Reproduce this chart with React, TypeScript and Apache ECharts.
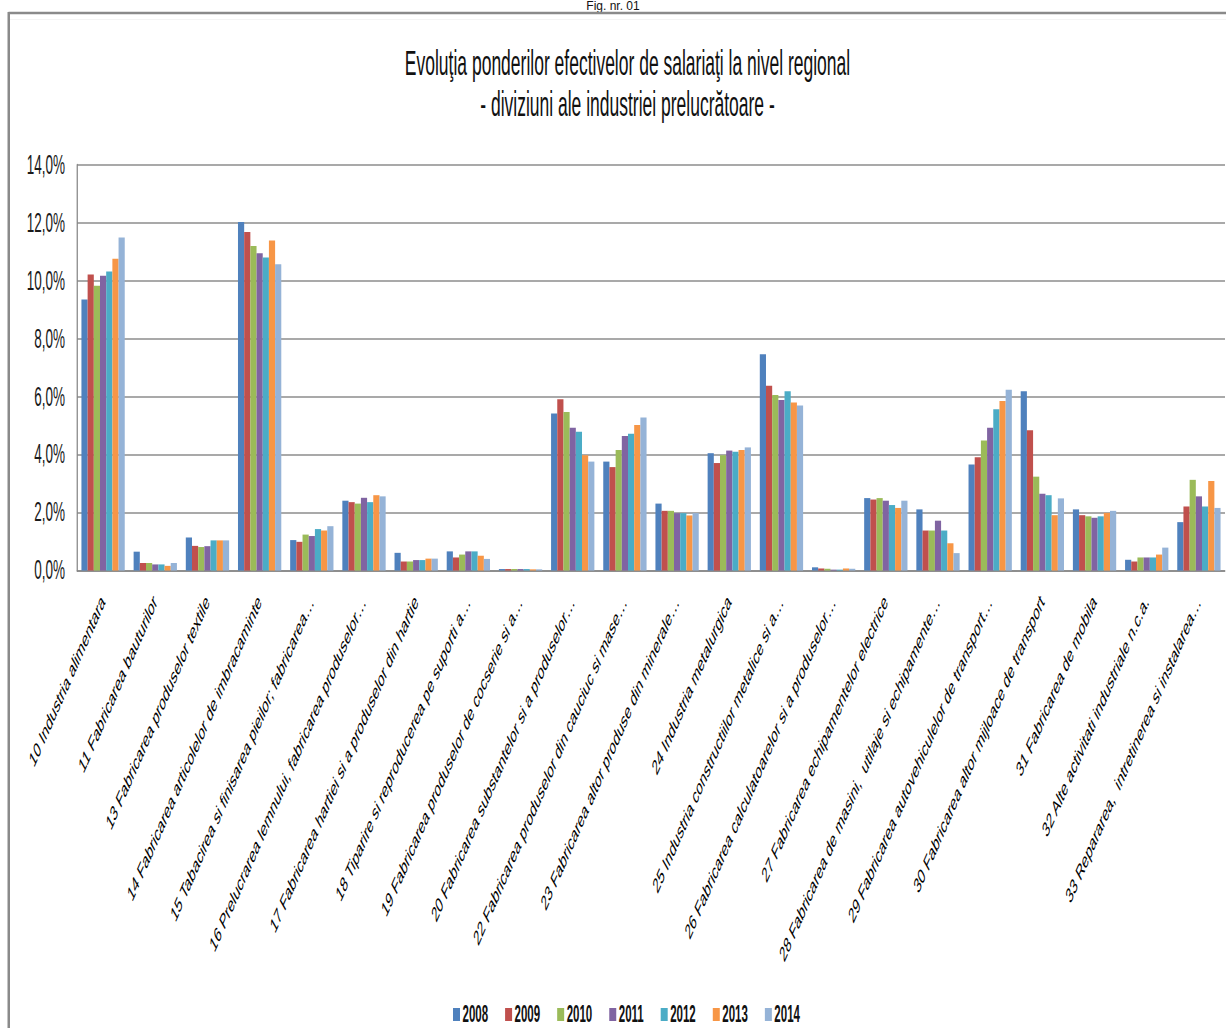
import React, { useEffect, useRef } from "react";
import * as echarts from "echarts";

// ---- data ----
const categories: string[] = [
  "10 Industria alimentara",
  "11 Fabricarea bauturilor",
  "13 Fabricarea produselor textile",
  "14 Fabricarea articolelor de imbracaminte",
  "15 Tabacirea si finisarea pieilor; fabricarea…",
  "16 Prelucrarea lemnului, fabricarea produselor…",
  "17 Fabricarea hartiei si a produselor din hartie",
  "18 Tiparire si reproducerea pe suporti a…",
  "19 Fabricarea produselor de cocserie si a…",
  "20 Fabricarea substantelor si a produselor…",
  "22 Fabricarea produselor din cauciuc si mase…",
  "23 Fabricarea altor produse din minerale…",
  "24 Industria metalurgica",
  "25 Industria constructiilor metalice si a…",
  "26 Fabricarea calculatoarelor si a produselor…",
  "27 Fabricarea echipamentelor electrice",
  "28 Fabricarea de masini,  utilaje si echipamente…",
  "29 Fabricarea autovehiculelor de transport…",
  "30 Fabricarea altor mijloace de transport",
  "31 Fabricarea de mobila",
  "32 Alte activitati industriale n.c.a.",
  "33 Repararea,  intretinerea si instalarea…",
];

const years: string[] = ["2008", "2009", "2010", "2011", "2012", "2013", "2014"];

const v2008 = [9.36, 0.65, 1.14, 12.03, 1.05, 2.41, 0.61, 0.66, 0.05, 5.42, 3.76, 2.31, 4.05, 7.47, 0.11, 2.5, 2.11, 3.66, 6.19, 2.11, 0.37, 1.67];
const v2009 = [10.22, 0.26, 0.85, 11.69, 0.99, 2.36, 0.31, 0.45, 0.05, 5.91, 3.57, 2.06, 3.71, 6.38, 0.07, 2.45, 1.38, 3.91, 4.84, 1.91, 0.31, 2.21];
const v2010 = [9.83, 0.26, 0.81, 11.2, 1.24, 2.31, 0.31, 0.55, 0.05, 5.47, 4.16, 2.06, 3.98, 6.06, 0.06, 2.5, 1.38, 4.49, 3.24, 1.87, 0.45, 3.13];
const v2011 = [10.18, 0.21, 0.84, 10.95, 1.19, 2.51, 0.36, 0.66, 0.05, 4.93, 4.64, 1.98, 4.14, 5.89, 0.03, 2.41, 1.72, 4.93, 2.65, 1.82, 0.45, 2.56];
const v2012 = [10.32, 0.21, 1.04, 10.81, 1.43, 2.36, 0.36, 0.66, 0.05, 4.79, 4.72, 1.98, 4.1, 6.19, 0.03, 2.26, 1.38, 5.57, 2.6, 1.87, 0.45, 2.21];
const v2013 = [10.76, 0.16, 1.04, 11.39, 1.38, 2.6, 0.41, 0.51, 0.04, 3.98, 5.02, 1.9, 4.16, 5.8, 0.07, 2.16, 0.94, 5.85, 1.91, 1.99, 0.55, 3.09];
const v2014 = [11.5, 0.26, 1.04, 10.57, 1.53, 2.56, 0.41, 0.4, 0.04, 3.76, 5.28, 1.98, 4.25, 5.7, 0.06, 2.41, 0.6, 6.24, 2.49, 2.06, 0.79, 2.16];

const seriesValues: number[][] = [v2008, v2009, v2010, v2011, v2012, v2013, v2014];
const seriesColors: string[] = ["#4F81BD", "#C0504D", "#9BBB59", "#8064A2", "#4BACC6", "#F79646", "#95B3D7"];

const yMin = 0;
const yMax = 14;
const yInterval = 2;

const titleLine1 = "Evoluţia ponderilor efectivelor de salariaţi la nivel regional";
const titleLine2 = "- diviziuni ale industriei prelucrătoare -";
const caption = "Fig. nr. 01";

// ---- layout (the original picture is squeezed horizontally) ----
const S = 0.5;
const W = 1226;
const H = 1028;
const PW = W / S;
const FONT = "'Liberation Sans', Arial, sans-serif";

export default function App() {
  const ref = useRef<HTMLDivElement>(null);

  useEffect(() => {
    if (!ref.current) return;
    const chart = echarts.init(ref.current, undefined, { renderer: "svg", width: PW, height: H });
    const option: any = {
      animation: false,
      backgroundColor: "#ffffff",
      title: [
        {
          text: titleLine1,
          left: 1250,
          top: 40,
          textAlign: "center",
          textStyle: { fontFamily: FONT, fontSize: 35, fontWeight: "normal", color: "#111" },
        },
        {
          text: titleLine2,
          left: 1250,
          top: 81,
          textAlign: "center",
          textStyle: { fontFamily: FONT, fontSize: 35, fontWeight: "normal", color: "#111" },
        },
      ],
      legend: {
        data: years,
        left: 901,
        top: 998,
        icon: "rect",
        itemWidth: 14,
        itemHeight: 13,
        itemGap: 34,
        textStyle: { fontFamily: FONT, fontSize: 23, fontWeight: "bold", color: "#111" },
      },
      grid: { left: 154, right: 2, top: 165, bottom: H - 570.5, containLabel: false },
      xAxis: {
        type: "category",
        data: categories,
        axisLine: { show: true, lineStyle: { color: "#868686", width: 1.5 } },
        axisTick: { show: false },
        axisLabel: {
          interval: 0,
          rotate: 49,
          margin: 28,
          fontFamily: FONT,
          fontSize: 21.5,
          color: "#000",
        },
      },
      yAxis: {
        type: "value",
        min: yMin,
        max: yMax,
        interval: yInterval,
        axisLine: { show: true, lineStyle: { color: "#868686", width: 2.5 } },
        axisTick: { show: false },
        splitLine: { show: true, lineStyle: { color: "#8c8c8c", width: 1.5 } },
        axisLabel: {
          margin: 24,
          fontFamily: FONT,
          fontSize: 27,
          color: "#1a1a1a",
          formatter: (v: number) => v.toFixed(1).replace(".", ",") + "%",
        },
      },
      series: years.map((y, i) => ({
        name: y,
        type: "bar",
        data: seriesValues[i],
        barGap: "0%",
        barCategoryGap: "17%",
        itemStyle: { color: seriesColors[i] },
      })),
      graphic: [
        {
          type: "text",
          x: 1226,
          y: 0,
          scaleX: 1 / S,
          style: { text: caption, font: `12px ${FONT}`, fill: "#111", align: "center", verticalAlign: "top" },
        },
        {
          type: "line",
          shape: { x1: 17, y1: 13, x2: PW + 10, y2: 13 },
          style: { stroke: "#8a8a8a", lineWidth: 2.5 },
        },
        {
          type: "line",
          shape: { x1: 20, y1: 19.5, x2: PW + 10, y2: 19.5 },
          style: { stroke: "#f0f0f0", lineWidth: 1 },
        },
        {
          type: "line",
          shape: { x1: 17.5, y1: 12, x2: 17.5, y2: H + 10 },
          style: { stroke: "#8a8a8a", lineWidth: 5 },
        },
      ],
    };
    chart.setOption(option);
    return () => chart.dispose();
  }, []);

  return (
    <div style={{ position: "absolute", left: 0, top: 0, width: W, height: H, overflow: "hidden", background: "#fff" }}>
      <div
        ref={ref}
        style={{ width: PW, height: H, transform: `scaleX(${S})`, transformOrigin: "0 0" }}
      />
    </div>
  );
}
